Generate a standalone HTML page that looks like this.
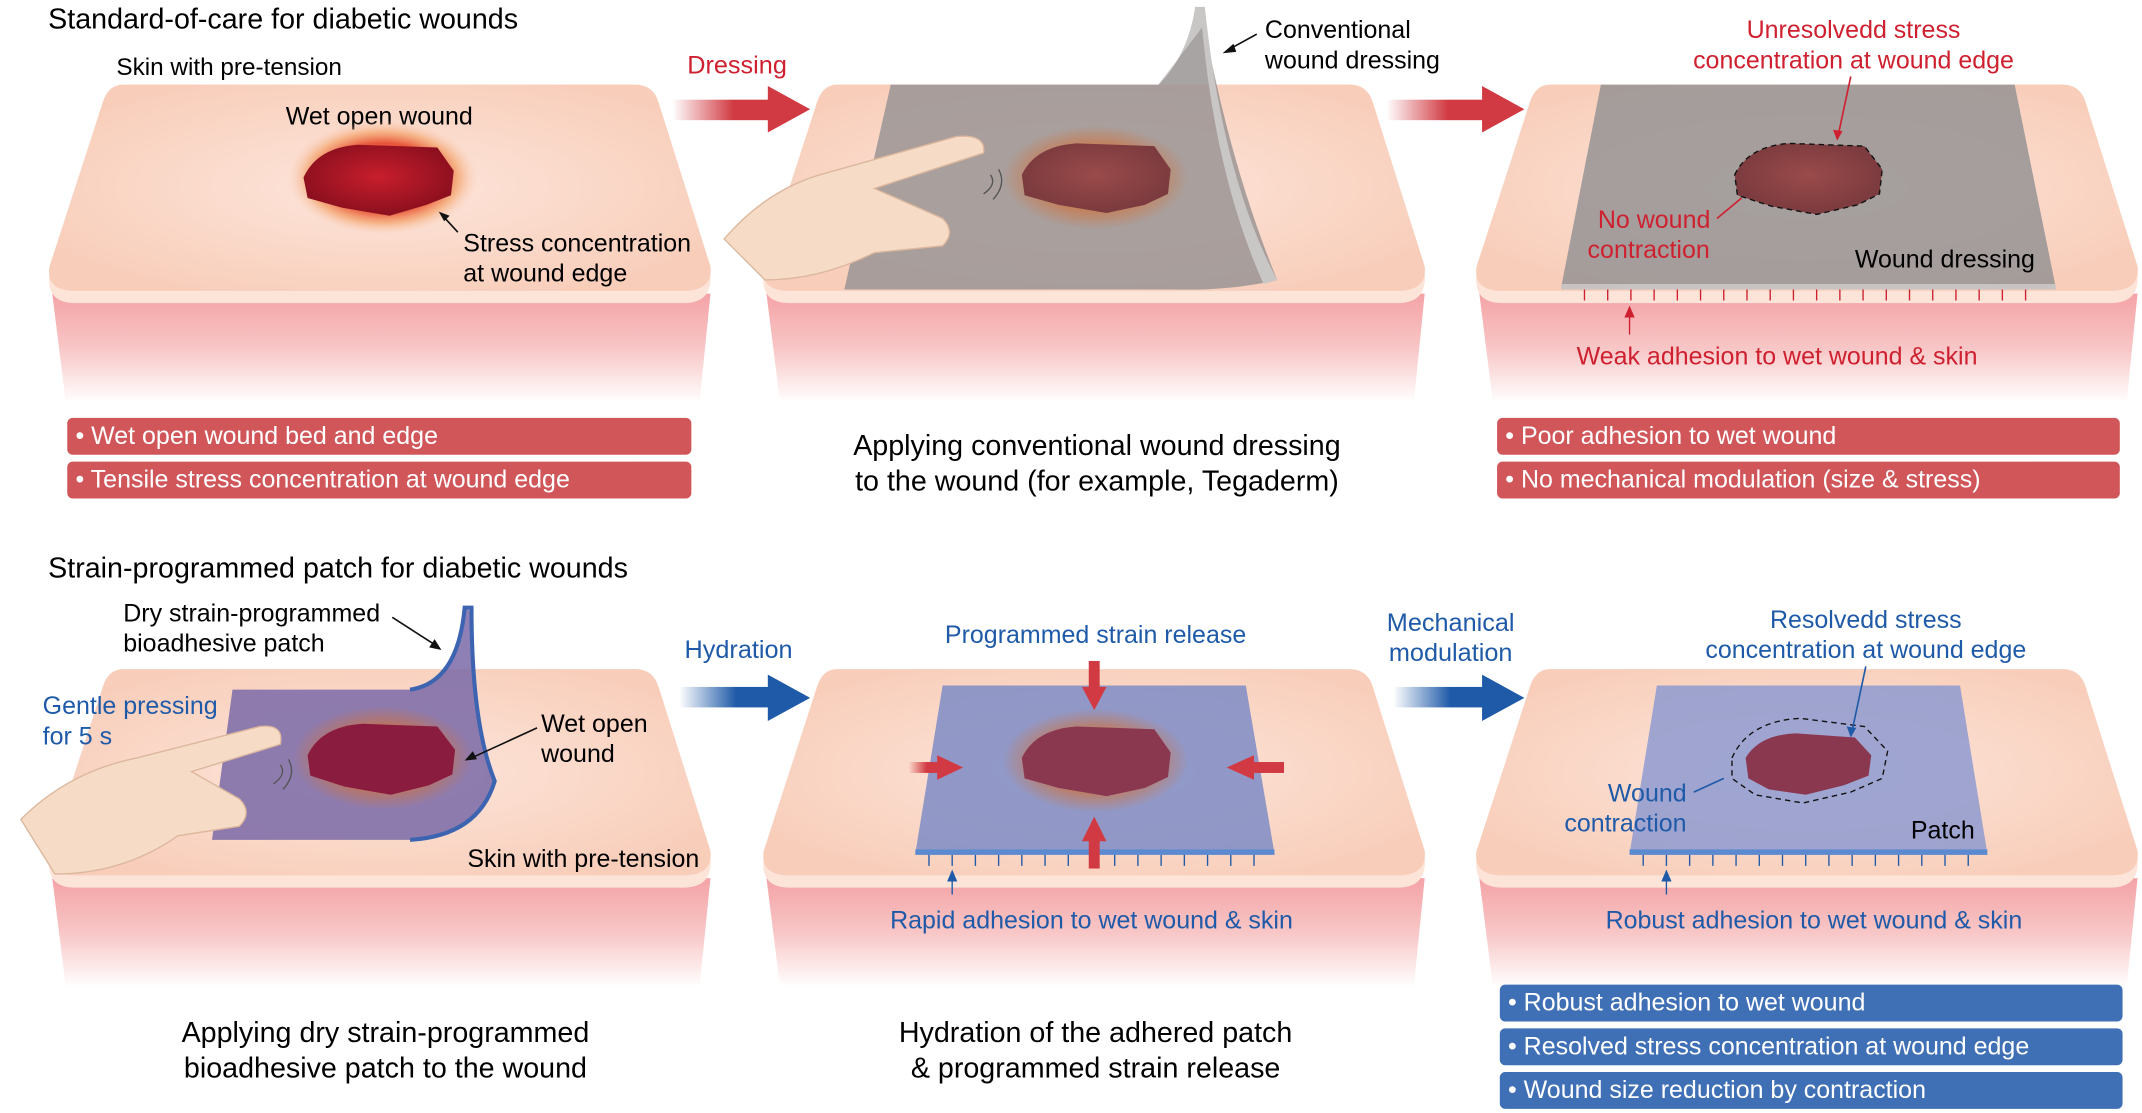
<!DOCTYPE html>
<html><head><meta charset="utf-8"><style>
html,body{margin:0;padding:0;background:#fff}
svg{display:block}
text{font-family:"Liberation Sans",Arial,sans-serif;}
</style></head><body>
<svg width="2142" height="1113" viewBox="0 0 1568 815" xmlns="http://www.w3.org/2000/svg">
<defs>
<radialGradient id="top" cx="50%" cy="50%" r="60%"><stop offset="0" stop-color="#fde6dc"/><stop offset="1" stop-color="#f8cdb9"/></radialGradient>
<linearGradient id="side" x1="0" y1="0" x2="0" y2="1"><stop offset="0" stop-color="#f4a3a6"/><stop offset="0.5" stop-color="#f8c6c6"/><stop offset="1" stop-color="#ffffff"/></linearGradient>
<radialGradient id="wound" cx="50%" cy="45%" r="55%"><stop offset="0" stop-color="#c81e2c"/><stop offset="1" stop-color="#8a0f1e"/></radialGradient>
<radialGradient id="glow" cx="50%" cy="50%" r="50%"><stop offset="0.6" stop-color="#e8553a"/><stop offset="0.8" stop-color="#f4a36a" stop-opacity="0.7"/><stop offset="1" stop-color="#f8cdb9" stop-opacity="0"/></radialGradient>
<radialGradient id="glowS" cx="50%" cy="50%" r="50%"><stop offset="0.55" stop-color="#d0703a" stop-opacity="0.8"/><stop offset="1" stop-color="#d0703a" stop-opacity="0"/></radialGradient>
<radialGradient id="woundD" cx="50%" cy="45%" r="55%"><stop offset="0" stop-color="#9a4a4a"/><stop offset="1" stop-color="#7a3a3e"/></radialGradient>
<linearGradient id="redArr" x1="0" x2="1"><stop offset="0" stop-color="#d13a42" stop-opacity="0"/><stop offset="0.6" stop-color="#d13a42"/></linearGradient>
<linearGradient id="bluArr" x1="0" x2="1"><stop offset="0" stop-color="#1f5aa8" stop-opacity="0"/><stop offset="0.6" stop-color="#1f5aa8"/></linearGradient>
</defs>

<g id="b1">
<path d="M38,215 L48,295 L512,295 L520,215 Z" fill="url(#side)"/>
<path d="M90,62 L465,62 Q478,62 482,75 L520,200 Q522,222 500,222 L55,222 Q33,222 36,200 L75,75 Q79,62 90,62 Z" fill="#fde4d9"/>
<path d="M90,62 L465,62 Q478,62 482,75 L520,195 Q522,213 500,213 L55,213 Q33,213 36,195 L75,75 Q79,62 90,62 Z" fill="url(#top)"/>
</g>
<use href="#b1" x="523"/>
<use href="#b1" x="1045"/>
<use href="#b1" y="428"/>
<use href="#b1" x="523" y="428"/>
<use href="#b1" x="1045" y="428"/>

<text x="35" y="21" font-size="21">Standard-of-care for diabetic wounds</text>
<text x="35" y="423" font-size="21">Strain-programmed patch for diabetic wounds</text>

<!-- Panel 1 -->
<text x="85" y="55" font-size="17.8">Skin with pre-tension</text>
<text x="209" y="91" font-size="18.3">Wet open wound</text>
<ellipse cx="280" cy="130" rx="70" ry="42" fill="url(#glow)"/>
<path d="M222,130 Q232,108 262,106 L320,108 L332,125 L330,143 L312,150 L285,158 L250,152 L225,145 Z" fill="url(#wound)"/>
<text x="339" y="184" font-size="18.3">Stress concentration</text>
<text x="339" y="206" font-size="18.3">at wound edge</text>
<line x1="335" y1="170" x2="324" y2="158" stroke="#111" stroke-width="1.2"/><path d="M321,155 L329,158 L325,162 Z" fill="#111"/>
<rect x="49" y="306" width="457" height="27" rx="4" fill="#d0565a"/>
<rect x="49" y="338" width="457" height="27" rx="4" fill="#d0565a"/>
<text x="55" y="325" font-size="18.3" fill="#fff">• Wet open wound bed and edge</text>
<text x="55" y="357" font-size="18.3" fill="#fff">• Tensile stress concentration at wound edge</text>

<text x="503" y="54" font-size="18.5" fill="#cf2030">Dressing</text>
<rect x="492" y="73" width="75" height="15" fill="url(#redArr)"/><path d="M562,63 L593,80 L562,97 Z" fill="#d13a42"/>
<rect x="1015" y="73" width="75" height="15" fill="url(#redArr)"/><path d="M1085,63 L1116,80 L1085,97 Z" fill="#d13a42"/>

<!-- Panel 2 -->
<path d="M652,62 L848,62 Q870,40 875,5 L880,10 Q900,120 935,205 Q900,213 860,212 L618,212 Z" fill="#9a9494" opacity="0.85"/>
<path d="M848,62 Q870,40 875,5 L882,5 Q895,130 935,205 L925,208 Q890,130 880,20 Z" fill="#c9c6c6"/>
<ellipse cx="802" cy="130" rx="68" ry="38" fill="url(#glowS)"/>
<path d="M748,128 Q758,107 788,105 L845,107 L857,124 L855,142 L838,150 L810,156 L775,150 L750,143 Z" fill="url(#woundD)"/>
<path d="M530,175 Q560,140 600,128 L700,100 Q722,98 720,112 L640,138 L690,160 Q700,170 690,180 L640,185 Q600,205 560,205 Z" fill="#f6dcc6" stroke="#dcb79e" stroke-width="1"/>
<path d="M725,128 Q730,135 720,142 M731,124 Q737,135 727,146" stroke="#555" fill="none" stroke-width="1"/>
<text x="926" y="28" font-size="18.3">Conventional</text>
<text x="926" y="50" font-size="18.3">wound dressing</text>
<line x1="920" y1="25" x2="900" y2="36" stroke="#111" stroke-width="1.2"/><path d="M895,39 L903,32 L905,38 Z" fill="#111"/>
<text x="803" y="333" font-size="21" text-anchor="middle">Applying conventional wound dressing</text>
<text x="803" y="359" font-size="21" text-anchor="middle">to the wound (for example, Tegaderm)</text>

<!-- Panel 3 -->
<path d="M1172,62 L1475,62 L1505,210 L1143,210 Z" fill="#999595" opacity="0.88"/>
<rect x="1143" y="208" width="362" height="4" fill="#c8c4c4"/>
<path d="M1270,128 Q1280,107 1310,105 L1365,107 L1378,124 L1376,142 L1360,150 L1330,157 L1297,151 L1272,143 Z" fill="url(#woundD)" stroke="#111" stroke-dasharray="4,3"/>
<text x="1357" y="28" font-size="18.3" fill="#cf2030" text-anchor="middle">Unresolvedd stress</text>
<text x="1357" y="50" font-size="18.3" fill="#cf2030" text-anchor="middle">concentration at wound edge</text>
<line x1="1355" y1="56" x2="1346" y2="98" stroke="#cf2030" stroke-width="1.2"/><path d="M1345,103 L1342,95 L1349,96 Z" fill="#cf2030"/>
<text x="1211" y="167" font-size="18.3" fill="#cf2030" text-anchor="middle">No wound</text>
<text x="1207" y="189" font-size="18.3" fill="#cf2030" text-anchor="middle">contraction</text>
<line x1="1257" y1="160" x2="1275" y2="145" stroke="#cf2030" stroke-width="1.2"/>
<text x="1358" y="196" font-size="18.3">Wound dressing</text>
<g stroke="#cf2030" stroke-width="1" fill="#cf2030">
<path d="M1160,212 v8 M1177,212 v8 M1194,212 v8 M1211,212 v8 M1228,212 v8 M1245,212 v8 M1262,212 v8 M1279,212 v8 M1296,212 v8 M1313,212 v8 M1330,212 v8 M1347,212 v8 M1364,212 v8 M1381,212 v8 M1398,212 v8 M1415,212 v8 M1432,212 v8 M1449,212 v8 M1466,212 v8 M1483,212 v8"/>
<line x1="1193" y1="245" x2="1193" y2="230"/><path d="M1190,232 L1193,225 L1196,232 Z"/>
</g>
<text x="1301" y="267" font-size="18.3" fill="#cf2030" text-anchor="middle">Weak adhesion to wet wound &amp; skin</text>
<rect x="1096" y="306" width="456" height="27" rx="4" fill="#d0565a"/>
<rect x="1096" y="338" width="456" height="27" rx="4" fill="#d0565a"/>
<text x="1102" y="325" font-size="18.3" fill="#fff">• Poor adhesion to wet wound</text>
<text x="1102" y="357" font-size="18.3" fill="#fff">• No mechanical modulation (size &amp; stress)</text>

<text x="501" y="482" font-size="18.5" fill="#1f5aa8">Hydration</text>
<rect x="497" y="503" width="70" height="15" fill="url(#bluArr)"/><path d="M562,494 L593,511 L562,528 Z" fill="#1f5aa8"/>
<text x="1062" y="462" font-size="18.5" fill="#1f5aa8" text-anchor="middle">Mechanical</text>
<text x="1062" y="484" font-size="18.5" fill="#1f5aa8" text-anchor="middle">modulation</text>
<rect x="1020" y="503" width="70" height="15" fill="url(#bluArr)"/><path d="M1085,494 L1116,511 L1085,528 Z" fill="#1f5aa8"/>

<!-- Panel 4 -->
<path d="M170,505 L300,505 Q335,500 340,445 L345,448 Q345,530 362,570 Q350,615 300,615 L155,615 Z" fill="#7a6aa8" opacity="0.85"/>
<path d="M300,505 Q335,500 340,445 L345,445 Q345,530 362,572 Q350,612 300,615" fill="none" stroke="#3d64b0" stroke-width="3"/>
<ellipse cx="280" cy="555" rx="66" ry="38" fill="url(#glowS)"/>
<path d="M225,553 Q235,532 265,530 L320,532 L333,549 L331,567 L314,575 L286,582 L252,576 L227,568 Z" fill="#8a1c40"/>
<path d="M15,600 Q50,565 100,555 L190,532 Q208,530 205,545 L140,565 L175,585 Q185,595 175,605 L130,612 Q90,640 40,640 Z" fill="#f6dcc6" stroke="#dcb79e" stroke-width="1"/>
<path d="M205,560 Q210,567 200,574 M211,556 Q217,567 207,578" stroke="#555" fill="none" stroke-width="1"/>
<text x="90" y="455" font-size="18.3">Dry strain-programmed</text>
<text x="90" y="477" font-size="18.3">bioadhesive patch</text>
<line x1="287" y1="452" x2="318" y2="472" stroke="#111" stroke-width="1.2"/><path d="M323,476 L314,474 L318,468 Z" fill="#111"/>
<text x="31" y="523" font-size="18.3" fill="#1f5aa8">Gentle pressing</text>
<text x="31" y="545" font-size="18.3" fill="#1f5aa8">for 5 s</text>
<text x="396" y="536" font-size="18.3">Wet open</text>
<text x="396" y="558" font-size="18.3">wound</text>
<line x1="393" y1="533" x2="345" y2="555" stroke="#111" stroke-width="1.2"/><path d="M340,557 L346,550 L349,556 Z" fill="#111"/>
<text x="342" y="635" font-size="18.3">Skin with pre-tension</text>
<text x="282" y="763" font-size="21" text-anchor="middle">Applying dry strain-programmed</text>
<text x="282" y="789" font-size="21" text-anchor="middle">bioadhesive patch to the wound</text>

<!-- Panel 5 -->
<path d="M690,502 L912,502 L933,625 L670,625 Z" fill="#7e8cc6" opacity="0.85"/>
<rect x="670" y="622" width="263" height="4" fill="#5c8ad0"/>
<ellipse cx="802" cy="557" rx="68" ry="38" fill="url(#glowS)"/>
<path d="M748,555 Q758,534 788,532 L845,534 L857,551 L855,569 L838,577 L810,583 L775,577 L750,570 Z" fill="#8a3850"/>
<g fill="#d13a42">
<rect x="797" y="484" width="8" height="20"/><path d="M792,503 L801,520 L810,503 Z"/>
<rect x="797" y="614" width="8" height="22"/><path d="M792,616 L801,598 L810,616 Z"/>
<rect x="665" y="558" width="22" height="8" fill="url(#redArr)"/><path d="M686,553 L705,562 L686,571 Z"/>
<rect x="916" y="558" width="24" height="8"/><path d="M918,553 L898,562 L918,571 Z"/>
</g>
<text x="802" y="471" font-size="18.3" fill="#1f5aa8" text-anchor="middle">Programmed strain release</text>
<g stroke="#1f5aa8" stroke-width="1" fill="#1f5aa8">
<path d="M680,626 v8 M697,626 v8 M714,626 v8 M731,626 v8 M748,626 v8 M765,626 v8 M782,626 v8 M816,626 v8 M833,626 v8 M850,626 v8 M867,626 v8 M884,626 v8 M901,626 v8 M918,626 v8"/>
<line x1="697" y1="655" x2="697" y2="644"/><path d="M694,645 L697,638 L700,645 Z"/>
</g>
<text x="799" y="680" font-size="18.3" fill="#1f5aa8" text-anchor="middle">Rapid adhesion to wet wound &amp; skin</text>
<text x="802" y="763" font-size="21" text-anchor="middle">Hydration of the adhered patch</text>
<text x="802" y="789" font-size="21" text-anchor="middle">&amp; programmed strain release</text>

<!-- Panel 6 -->
<path d="M1213,502 L1435,502 L1455,625 L1193,625 Z" fill="#8e9ad0" opacity="0.85"/>
<rect x="1193" y="622" width="262" height="4" fill="#5c8ad0"/>
<path d="M1268,555 Q1280,528 1318,526 L1365,532 L1382,550 L1378,570 L1355,580 L1320,588 L1285,582 L1268,570 Z" fill="none" stroke="#111" stroke-dasharray="4,3"/>
<path d="M1278,555 Q1288,538 1315,537 L1358,540 L1370,553 L1368,568 L1350,575 L1322,582 L1295,578 L1280,570 Z" fill="#8a3850"/>
<text x="1366" y="460" font-size="18.3" fill="#1f5aa8" text-anchor="middle">Resolvedd stress</text>
<text x="1366" y="482" font-size="18.3" fill="#1f5aa8" text-anchor="middle">concentration at wound edge</text>
<line x1="1366" y1="488" x2="1356" y2="535" stroke="#1f5aa8" stroke-width="1.2"/><path d="M1355,540 L1352,532 L1359,533 Z" fill="#1f5aa8"/>
<text x="1206" y="587" font-size="18.3" fill="#1f5aa8" text-anchor="middle">Wound</text>
<text x="1190" y="609" font-size="18.3" fill="#1f5aa8" text-anchor="middle">contraction</text>
<line x1="1240" y1="580" x2="1262" y2="570" stroke="#1f5aa8" stroke-width="1.2"/>
<text x="1399" y="614" font-size="18.3">Patch</text>
<g stroke="#1f5aa8" stroke-width="1" fill="#1f5aa8">
<path d="M1203,626 v8 M1220,626 v8 M1237,626 v8 M1254,626 v8 M1271,626 v8 M1288,626 v8 M1305,626 v8 M1322,626 v8 M1339,626 v8 M1356,626 v8 M1373,626 v8 M1390,626 v8 M1407,626 v8 M1424,626 v8 M1441,626 v8"/>
<line x1="1220" y1="655" x2="1220" y2="644"/><path d="M1217,645 L1220,638 L1223,645 Z"/>
</g>
<text x="1328" y="680" font-size="18.3" fill="#1f5aa8" text-anchor="middle">Robust adhesion to wet wound &amp; skin</text>
<rect x="1098" y="721" width="456" height="27" rx="4" fill="#3f6fb5"/>
<rect x="1098" y="753" width="456" height="27" rx="4" fill="#3f6fb5"/>
<rect x="1098" y="785" width="456" height="27" rx="4" fill="#3f6fb5"/>
<text x="1104" y="740" font-size="18.3" fill="#fff">• Robust adhesion to wet wound</text>
<text x="1104" y="772" font-size="18.3" fill="#fff">• Resolved stress concentration at wound edge</text>
<text x="1104" y="804" font-size="18.3" fill="#fff">• Wound size reduction by contraction</text>
</svg>
</body></html>
